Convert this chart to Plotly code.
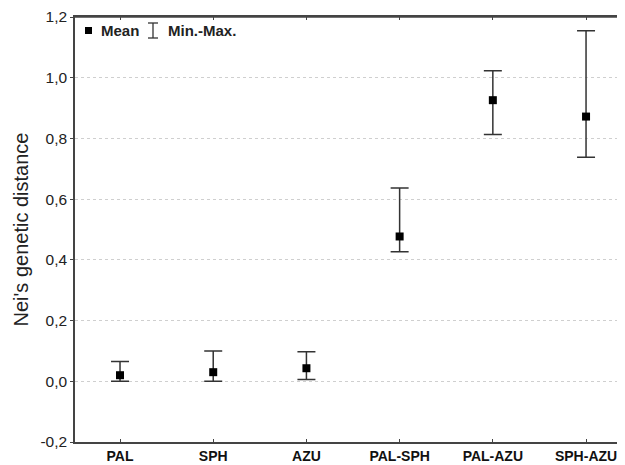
import plotly.graph_objects as go

categories = ["PAL", "SPH", "AZU", "PAL-SPH", "PAL-AZU", "SPH-AZU"]
mean_vals = [0.020, 0.030, 0.043, 0.477, 0.926, 0.872]
min_vals = [0.000, 0.000, 0.006, 0.427, 0.813, 0.738]
max_vals = [0.065, 0.100, 0.097, 0.637, 1.023, 1.155]

y_tickvals = [-0.2, 0.0, 0.2, 0.4, 0.6, 0.8, 1.0, 1.2]
y_ticktext = ["-0,2", "0,0", "0,2", "0,4", "0,6", "0,8", "1,0", "1,2"]

err_plus = [mx - m for mx, m in zip(max_vals, mean_vals)]
err_minus = [m - mn for mn, m in zip(min_vals, mean_vals)]

fig = go.Figure()
fig.add_trace(go.Scatter(
    x=list(range(len(categories))), y=mean_vals, mode="markers",
    marker=dict(symbol="square", size=8, color="black"),
    error_y=dict(type="data", symmetric=False, array=err_plus, arrayminus=err_minus,
                 color="#333333", thickness=1.5, width=9),
    showlegend=False,
))

# page body has an 8px default margin; work in page pixels and shift
OFF = 8
FW, FH = 625 - OFF, 465 - OFF
PL, PR, PT, PB = 75 - OFF, 625 - OFF, 17 - OFF, 442 - OFF
W = PR - PL
H = PB - PT

font = "Liberation Sans, Arial, sans-serif"
fig.update_layout(
    width=FW, height=FH,
    margin=dict(l=PL, r=FW - PR, t=PT, b=FH - PB),
    plot_bgcolor="white", paper_bgcolor="white",
    showlegend=False,
    xaxis=dict(
        range=[-0.483, 5.418],
        tickvals=list(range(len(categories))), ticktext=categories,
        showline=True, linecolor="#444444", linewidth=1.5, mirror="ticks",
        ticks="inside", ticklen=3, tickcolor="#444444",
        showgrid=False, zeroline=False, automargin=False,
        ticklabeloverflow="allow",
        tickfont=dict(family=font, size=14, color="#111111", weight="bold"),
    ),
    yaxis=dict(
        range=[-0.2, 1.2],
        tickvals=y_tickvals, ticktext=y_ticktext,
        showline=True, linecolor="#444444", linewidth=1.5,
        ticks="outside", ticklen=3, tickcolor="#444444",
        showgrid=True, gridcolor="#cfcfcf", griddash="dot", gridwidth=1,
        zeroline=False, automargin=False,
        ticklabeloverflow="allow",
        tickfont=dict(family=font, size=15.5, color="#222222"),
        title=dict(text="Nei's genetic distance",
                   font=dict(family=font, size=20, color="#222222"), standoff=6),
    ),
)

def px(x):
    return (x - OFF - PL) / W

def py(y):
    return (PB - (y - OFF)) / H

# top frame line
fig.add_shape(type="line", xref="paper", yref="paper", x0=0, x1=1, y0=1, y1=1,
              line=dict(color="#444444", width=1.5), layer="above")

# legend drawn manually (page pixel coords)
fig.add_shape(type="rect", xref="paper", yref="paper",
              x0=px(85), x1=px(92), y0=py(34), y1=py(27),
              fillcolor="black", line=dict(width=0))
fig.add_annotation(xref="paper", yref="paper", x=px(99), y=py(30.5),
                   text="<b>Mean</b>", showarrow=False, xanchor="left", yanchor="middle",
                   font=dict(family=font, size=15, color="#222222"))
for yy in [23, 38]:
    fig.add_shape(type="line", xref="paper", yref="paper",
                  x0=px(148), x1=px(158), y0=py(yy), y1=py(yy),
                  line=dict(color="#333333", width=1.3))
fig.add_shape(type="line", xref="paper", yref="paper",
              x0=px(153), x1=px(153), y0=py(23), y1=py(38),
              line=dict(color="#333333", width=1.3))
fig.add_annotation(xref="paper", yref="paper", x=px(166), y=py(30.5),
                   text="<b>Min.-Max.</b>", showarrow=False, xanchor="left", yanchor="middle",
                   font=dict(family=font, size=15, color="#222222"))

fig.write_html("out.html")
